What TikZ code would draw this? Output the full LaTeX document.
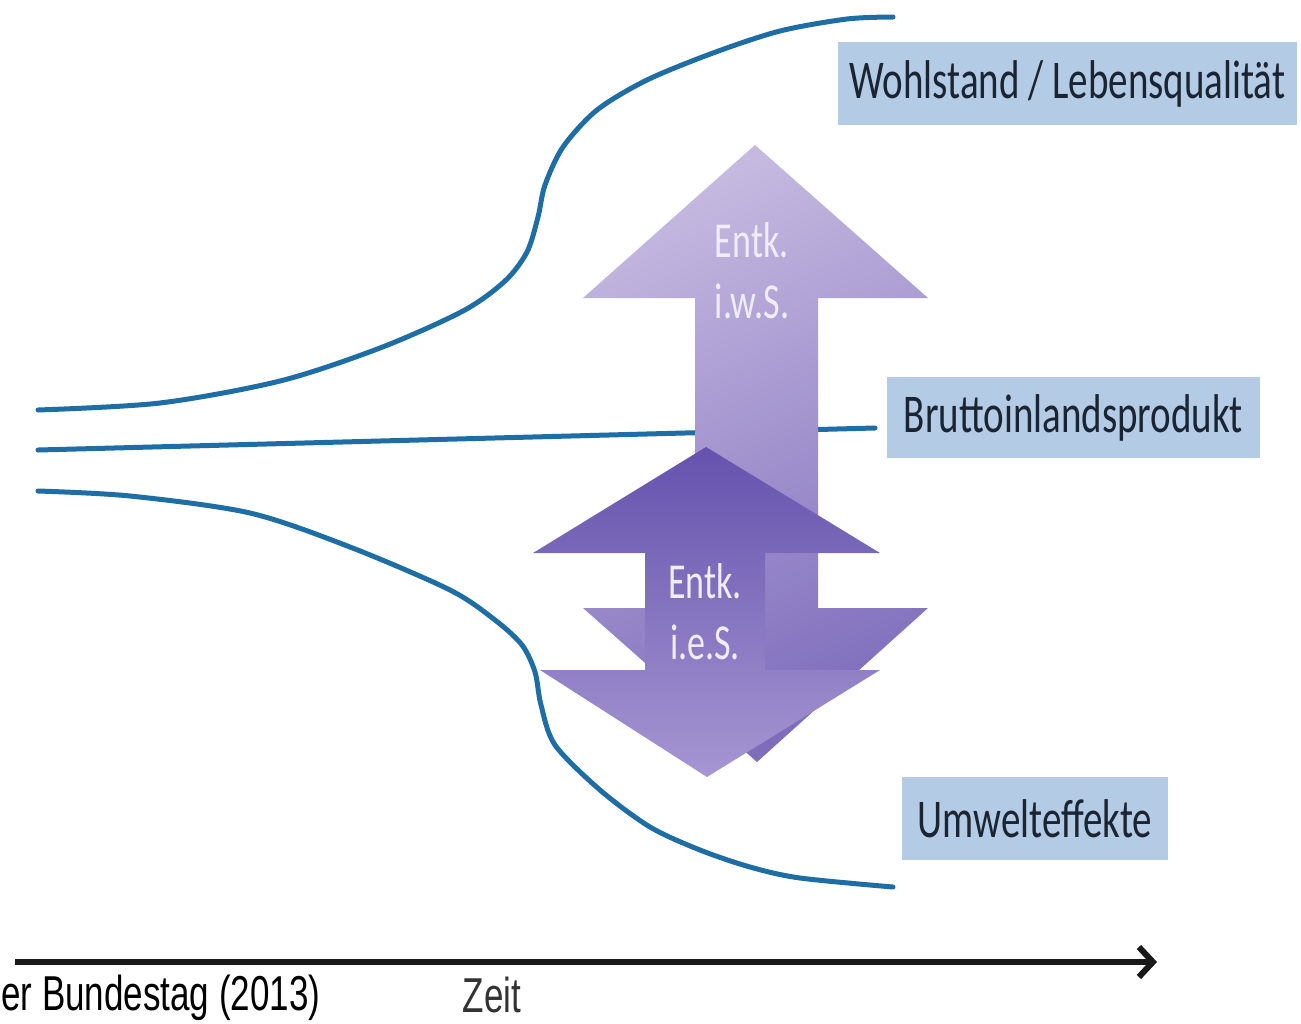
\documentclass[tikz,border=0pt]{standalone}
\usepackage{fontspec}
\setmainfont{Carlito}
\newfontfamily\arialfont{Liberation Sans}
\usepackage{graphicx}
\definecolor{CurveBlue}{HTML}{1F6DA5}
\definecolor{LabelBG}{HTML}{B3CBE5}
\definecolor{LabelText}{HTML}{1A2432}
\definecolor{WideLight}{HTML}{C5B9E0}
\definecolor{WideDark}{HTML}{7F6DBC}
\definecolor{NarrowDark}{HTML}{6552AD}
\definecolor{NarrowLight}{HTML}{A696D2}
\definecolor{ArrowText}{HTML}{F0ECF8}
\usetikzlibrary{arrows.meta,positioning}
\newcommand{\stretchy}[1]{\scalebox{1}[1.4]{#1}}

\begin{document}
\begin{tikzpicture}[
  x=1pt,y=-1pt,
  lbl/.style={fill=LabelBG,text=LabelText,inner sep=0pt,
    font=\fontsize{39}{47}\selectfont},
  curve/.style={CurveBlue,line width=5pt,line cap=round},
  arrtext/.style={text=ArrowText,inner sep=0pt,
    font=\fontsize{36}{61}\selectfont},
  zeitpfeil/.style={-{Straight Barb[length=14pt,width=30pt]},line width=6pt,black!90}
]
  \useasboundingbox[fill=white] (0,0) rectangle (1301,1023);

  % Kurven
  \coordinate (w0) at (38,410);
  \coordinate (w1) at (893,17);
  \coordinate (b0) at (38,450);
  \coordinate (b1) at (875,428);
  \coordinate (u0) at (38,491);
  \coordinate (u1) at (893,887);

  \draw[curve] plot[smooth,tension=0.5] coordinates {
    (w0) (160,403) (280,381) (380,348) (463,311) (505,281) (527,252)
    (538,217) (545,185) (563,147) (597,110) (647,80) (713,53) (780,31)
    (847,19) (w1)};
  \draw[curve] (b0) -- (b1);
  \draw[curve] plot[smooth,tension=0.5] coordinates {
    (u0) (130,496) (250,513) (350,547) (450,590) (495,620) (522,645)
    (535,672) (541,705) (555,745) (600,790) (650,827) (700,850)
    (750,867) (800,878) (u1)};

  % Pfeile
  \path[top color=WideLight,bottom color=WideDark,shading angle=25]
    (755,145) -- (928,298) -- (818,298) -- (818,608) -- (928,608)
    -- (757,762) -- (583,608) -- (695,608) -- (695,298) -- (583,298) -- cycle;
  \path[top color=NarrowDark,bottom color=NarrowLight]
    (706,447) -- (880,553) -- (765,553) -- (765,670) -- (880,670)
    -- (707,777) -- (540,670) -- (645,670) -- (645,553) -- (533,553) -- cycle;

  \node[arrtext,align=left] (iws) at (752,271) {\stretchy{Entk.}\\\stretchy{i.w.S.}};
  \node[arrtext,align=center] (ies) at (705,612) {\stretchy{Entk.}\\\stretchy{i.e.S.}};

  % Beschriftungen
  \node[lbl,minimum width=459,minimum height=83] (wohl) at (1067.5,83.5)
    {\stretchy{Wohlstand / Lebensqualität}};
  \node[lbl,minimum width=373,minimum height=81] (bip) at (1073.5,417.5)
    {\stretchy{Bruttoinlandsprodukt}};
  \node[lbl,minimum width=266,minimum height=83] (umwelt) at (1035,818.5)
    {\stretchy{Umwelteffekte}};

  % Zeitachse
  \coordinate (t0) at (15,962);
  \coordinate (t1) at (1157,962);
  \draw[zeitpfeil] (t0) -- (t1);
  \node[font=\arialfont\fontsize{35}{40}\selectfont,text=black!80,inner sep=0pt]
    (zeit) at (492,995) {\stretchy{Zeit}};
  \node[font=\arialfont\fontsize{35}{40}\selectfont,inner sep=0pt,anchor=west]
    (quelle) at (1,998) {\stretchy{er Bundestag (2013)}};
\end{tikzpicture}
\end{document}
